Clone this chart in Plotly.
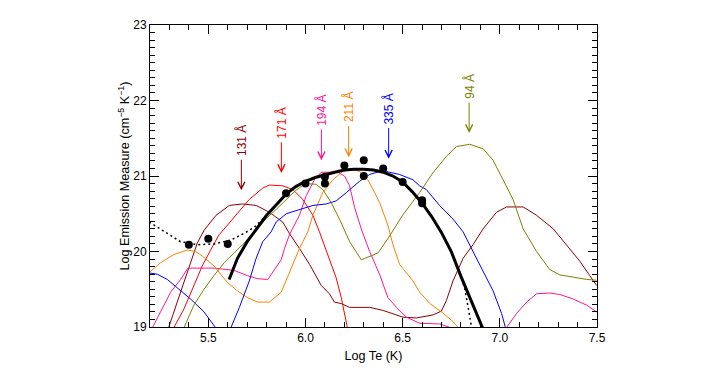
import plotly.graph_objects as go

# ---- EM loci curves (log T, log EM) ----
x131 = [5.25, 5.289, 5.340, 5.375, 5.409, 5.443, 5.478, 5.540, 5.608, 5.677, 5.746, 5.814, 5.883, 5.917, 5.969, 6.021, 6.081, 6.123, 6.149, 6.184, 6.227, 6.330, 6.398, 6.502, 6.571, 6.656, 6.699, 6.725, 6.759, 6.811, 6.862, 6.914, 6.983, 7.035, 7.120, 7.189, 7.275, 7.344, 7.412, 7.463, 7.498]
y131 = [18.6, 18.94, 19.33, 19.59, 19.85, 20.11, 20.28, 20.48, 20.61, 20.63, 20.61, 20.52, 20.39, 20.24, 20.04, 19.83, 19.55, 19.44, 19.33, 19.31, 19.26, 19.26, 19.22, 19.13, 19.12, 19.16, 19.21, 19.35, 19.61, 19.91, 20.09, 20.30, 20.52, 20.59, 20.59, 20.48, 20.30, 20.09, 19.87, 19.68, 19.55]

x171 = [5.29, 5.316, 5.375, 5.426, 5.469, 5.512, 5.555, 5.589, 5.643, 5.711, 5.780, 5.814, 5.883, 5.935, 5.986, 6.038, 6.072, 6.123, 6.158, 6.184, 6.201, 6.218, 6.24]
y171 = [18.6, 18.96, 19.24, 19.55, 19.81, 20.02, 20.22, 20.32, 20.48, 20.69, 20.84, 20.88, 20.87, 20.82, 20.69, 20.48, 20.26, 19.91, 19.65, 19.39, 19.18, 18.96, 18.6]

x194 = [5.18, 5.203, 5.254, 5.306, 5.357, 5.395, 5.529, 5.632, 5.701, 5.753, 5.806, 5.831, 5.875, 5.892, 5.917, 5.969, 6.004, 6.046, 6.081, 6.166, 6.201, 6.227, 6.253, 6.287, 6.330, 6.381, 6.424, 6.468, 6.519, 6.588, 6.690, 6.759, 6.80, 6.90, 7.00, 7.026, 7.086, 7.138, 7.189, 7.257, 7.309, 7.378, 7.447, 7.498]
y194 = [18.7, 18.94, 19.20, 19.46, 19.63, 19.78, 19.78, 19.75, 19.68, 19.64, 19.63, 19.72, 19.89, 20.04, 20.22, 20.48, 20.74, 20.95, 21.05, 21.05, 21.00, 20.87, 20.58, 20.30, 20.00, 19.70, 19.39, 19.26, 19.13, 19.05, 19.04, 18.98, 18.85, 18.6, 18.85, 18.96, 19.18, 19.33, 19.44, 19.45, 19.43, 19.37, 19.29, 19.20]

x211 = [5.186, 5.254, 5.323, 5.392, 5.435, 5.469, 5.529, 5.598, 5.649, 5.701, 5.753, 5.814, 5.875, 5.900, 5.935, 5.969, 6.012, 6.038, 6.089, 6.141, 6.192, 6.236, 6.278, 6.321, 6.356, 6.381, 6.424, 6.450, 6.484, 6.553, 6.588, 6.640, 6.700, 6.751, 6.793, 6.85]
y211 = [19.70, 19.85, 19.96, 20.02, 20.00, 19.94, 19.81, 19.59, 19.48, 19.39, 19.33, 19.33, 19.46, 19.61, 19.83, 20.04, 20.26, 20.48, 20.78, 20.95, 21.06, 21.09, 21.06, 20.95, 20.78, 20.65, 20.35, 20.09, 19.83, 19.61, 19.46, 19.31, 19.20, 19.09, 18.98, 18.8]

x335 = [5.186, 5.237, 5.289, 5.357, 5.409, 5.478, 5.529, 5.546, 5.58, 5.608, 5.660, 5.711, 5.746, 5.780, 5.823, 5.849, 5.901, 5.952, 6.038, 6.107, 6.158, 6.210, 6.278, 6.330, 6.381, 6.416, 6.484, 6.553, 6.587, 6.622, 6.690, 6.759, 6.811, 6.862, 6.914, 6.965, 7.009, 7.031, 7.06]
y335 = [19.72, 19.70, 19.63, 19.48, 19.37, 19.20, 19.03, 18.96, 18.90, 18.94, 19.26, 19.61, 19.91, 20.13, 20.26, 20.39, 20.50, 20.54, 20.61, 20.63, 20.67, 20.78, 20.93, 21.02, 21.06, 21.06, 21.02, 20.95, 20.87, 20.82, 20.61, 20.43, 20.26, 20.00, 19.74, 19.48, 19.18, 18.96, 18.7]

x94 = [5.33, 5.366, 5.426, 5.478, 5.529, 5.581, 5.632, 5.684, 5.736, 5.80, 5.85, 5.90, 5.95, 6.00, 6.055, 6.089, 6.132, 6.175, 6.227, 6.287, 6.330, 6.373, 6.424, 6.50, 6.587, 6.655, 6.725, 6.777, 6.845, 6.914, 6.965, 7.026, 7.068, 7.120, 7.189, 7.257, 7.309, 7.378, 7.447, 7.498]
y94 = [18.5, 18.94, 19.29, 19.50, 19.68, 19.85, 19.98, 20.11, 20.26, 20.44, 20.56, 20.68, 20.81, 20.90, 20.89, 20.82, 20.65, 20.43, 20.13, 19.89, 19.94, 19.98, 20.17, 20.48, 20.78, 21.04, 21.26, 21.39, 21.42, 21.36, 21.21, 20.91, 20.69, 20.30, 20.00, 19.76, 19.69, 19.66, 19.63, 19.62]

# ---- EM distribution fit (solid) and extended fit (dotted) ----
x_fit = [5.607, 5.65, 5.70, 5.75, 5.80, 5.85, 5.90, 5.95, 6.00, 6.05, 6.10, 6.15, 6.20, 6.25, 6.30, 6.35, 6.40, 6.45, 6.50, 6.55, 6.60, 6.65, 6.70, 6.75, 6.80, 6.85, 6.90, 6.95]
y_fit = [19.63, 19.91, 20.13, 20.30, 20.48, 20.62, 20.76, 20.86, 20.93, 20.98, 21.02, 21.05, 21.08, 21.09, 21.09, 21.08, 21.05, 21.00, 20.92, 20.79, 20.64, 20.46, 20.25, 20.00, 19.67, 19.36, 19.06, 18.75]

x_dot = [5.196, 5.237, 5.289, 5.357, 5.443, 5.529, 5.615, 5.684, 5.736, 5.780, 5.80, 5.85, 5.90, 5.95, 6.00, 6.05, 6.10, 6.15, 6.20, 6.25, 6.30, 6.35, 6.40, 6.45, 6.50, 6.55, 6.60, 6.65, 6.70, 6.75, 6.80, 6.82, 6.84, 6.855, 6.87]
y_dot = [20.39, 20.32, 20.24, 20.13, 20.09, 20.10, 20.15, 20.24, 20.32, 20.43, 20.48, 20.62, 20.76, 20.86, 20.93, 20.98, 21.02, 21.05, 21.08, 21.09, 21.09, 21.08, 21.05, 21.00, 20.92, 20.79, 20.64, 20.46, 20.25, 20.00, 19.67, 19.50, 19.22, 19.00, 18.75]

# ---- measured points ----
x_pts = [5.4, 5.5, 5.6, 5.9, 6.0, 6.1, 6.1, 6.2, 6.3, 6.3, 6.4, 6.5, 6.6, 6.6]
y_pts = [20.09, 20.17, 20.10, 20.77, 20.90, 20.99, 20.90, 21.14, 21.21, 21.00, 21.10, 20.92, 20.64, 20.68]

# ---- channel labels and arrows ----
labels = ["131 Å", "171 Å", "194 Å", "211 Å", "335 Å", "94 Å"]
arrow_x = [5.670, 5.876, 6.082, 6.222, 6.428, 6.842]
arrow_tip = [20.81, 21.04, 21.21, 21.25, 21.23, 21.57]
colors = ["#8b0000", "#ff0000", "#ff1493", "#ff8000", "#0000ff", "#808000"]

curves_x = [x131, x171, x194, x211, x335, x94]
curves_y = [y131, y171, y194, y211, y335, y94]

FONT = "Liberation Sans, Arial, Helvetica, sans-serif"
FS = 12
TITLE_FS = 12.6
ARROW_LEN = 30   # px
GAP = 4          # px between label and arrow tail


def text_len(s, fs=FS):
    # approximate Arial advance widths
    w = 0.0
    for ch in s:
        if ch.isdigit():
            w += 0.556
        elif ch == " ":
            w += 0.278
        else:
            w += 0.667
    return w * fs


fig = go.Figure()
for cx, cy, col, lab in zip(curves_x, curves_y, colors, labels):
    fig.add_trace(go.Scatter(x=cx, y=cy, mode="lines", name=lab,
                             line=dict(color=col, width=1), hoverinfo="skip"))

fig.add_trace(go.Scatter(x=x_dot, y=y_dot, mode="lines",
                         line=dict(color="black", width=1.5, dash="2px,3px"),
                         hoverinfo="skip"))
fig.add_trace(go.Scatter(x=x_fit, y=y_fit, mode="lines",
                         line=dict(color="black", width=3), hoverinfo="skip"))
fig.add_trace(go.Scatter(x=x_pts, y=y_pts, mode="markers",
                         marker=dict(color="black", size=8), hoverinfo="skip"))

ann = []
for ax_, tip, lab, col in zip(arrow_x, arrow_tip, labels, colors):
    half = text_len(lab) / 2.0
    ann.append(dict(x=ax_, y=tip, xref="x", yref="y", text=lab, showarrow=True,
                    textangle=-90, ax=0, ay=-(ARROW_LEN + GAP + half),
                    borderpad=GAP - 1, arrowhead=5, arrowsize=1.4, arrowwidth=1,
                    arrowcolor=col, standoff=0,
                    font=dict(family=FONT, size=FS, color=col)))

axis_common = dict(showline=True, linecolor="black", linewidth=1, mirror="allticks",
                   ticks="inside", ticklen=9, tickwidth=1, tickcolor="black",
                   showgrid=False, zeroline=False,
                   tickfont=dict(family=FONT, size=12, color="black"))

fig.update_layout(
    width=705, height=366,
    margin=dict(l=142, r=116, t=10, b=47),
    paper_bgcolor="white", plot_bgcolor="white",
    showlegend=False,
    annotations=ann,
    xaxis=dict(range=[5.2, 7.5], tick0=5.0, dtick=0.5, tickformat=".1f",
               minor=dict(ticks="inside", dtick=0.1, tick0=5.0, ticklen=5, tickcolor="black"),
               title=dict(text="Log Te (K)", font=dict(family=FONT, size=TITLE_FS, color="black"), standoff=6),
               **axis_common),
    yaxis=dict(range=[19, 23], tick0=19, dtick=1, tickformat="d",
               minor=dict(ticks="inside", dtick=0.1, tick0=19, ticklen=5, tickcolor="black"),
               title=dict(text="Log Emission Measure (cm<sup>−5</sup> K<sup>−1</sup>)",
                          font=dict(family=FONT, size=TITLE_FS, color="black"), standoff=0),
               **axis_common),
)

fig.write_html("out.html")
